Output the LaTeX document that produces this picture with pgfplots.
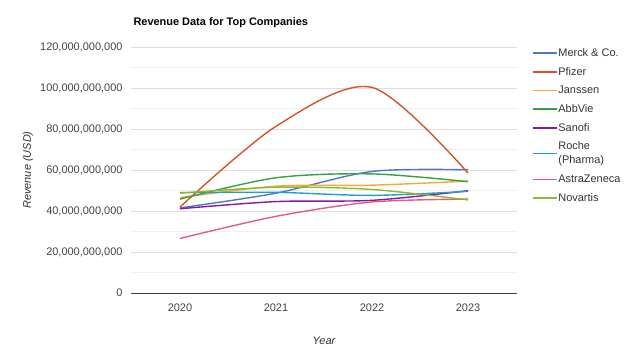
\documentclass[border=0pt]{standalone}
\usepackage{fontspec}
\setmainfont{Liberation Sans}
\usepackage{pgfplots}
\pgfplotsset{compat=1.18}
\definecolor{cMerck}{RGB}{77,120,200}
\definecolor{cPfizer}{RGB}{216,82,40}
\definecolor{cJanssen}{RGB}{245,168,55}
\definecolor{cAbbVie}{RGB}{55,160,65}
\definecolor{cSanofi}{RGB}{140,20,160}
\definecolor{cRoche}{RGB}{30,160,200}
\definecolor{cAstra}{RGB}{228,90,135}
\definecolor{cNovartis}{RGB}{140,185,45}
\definecolor{labelgray}{RGB}{68,68,68}
\definecolor{gridmaj}{RGB}{222,222,222}
\definecolor{gridmin}{RGB}{240,240,240}
\begin{document}
\begin{tikzpicture}[x=1bp,y=1bp]
\path[use as bounding box] (0,0) rectangle (637,352);
\node[anchor=west,font=\fontsize{11}{13}\selectfont\bfseries] at (130,329) {Revenue Data for Top Companies};
\begin{axis}[
  at={(131bp,59bp)}, anchor=south west,
  scale only axis, width=386bp, height=246bp,
  xmin=2019.49, xmax=2023.51, ymin=0, ymax=1.2e11,
  scaled y ticks=false,
  xtick={2020,2021,2022,2023}, xticklabels={2020,2021,2022,2023},
  ytick={0,2e10,4e10,6e10,8e10,1e11,1.2e11},
  yticklabels={{0},{20,000,000,000},{40,000,000,000},{60,000,000,000},{80,000,000,000},{100,000,000,000},{120,000,000,000}},
  minor ytick={1e10,3e10,5e10,7e10,9e10,1.1e11},
  ymajorgrids, yminorgrids,
  major grid style={gridmaj, line width=0.8pt},
  minor grid style={gridmin, line width=0.8pt},
  axis line style={draw=none},
  major tick length=0, minor tick length=0,
  tick label style={font=\fontsize{11}{13}\selectfont, color=labelgray},
  yticklabel style={xshift=-5bp},
  xticklabel style={yshift=-7bp},
  xlabel={\itshape Year}, ylabel={\itshape Revenue (USD)},
  label style={font=\fontsize{11}{13}\selectfont, color=black!80},
  xlabel style={at={(axis description cs:0.5,0)}, anchor=center, yshift=-48bp},
  ylabel style={at={(axis description cs:0,0.5)}, anchor=center, rotate=0, yshift=103bp},
  legend style={at={(1.03,1.008)}, anchor=north west, draw=none, fill=none,
    font=\fontsize{11}{14}\selectfont, row sep=7.4bp,
    nodes={align=left, inner sep=1bp, text=black!80}},
  legend cell align=left,
  legend image code/.code={\draw[#1, line width=1.6bp] (-3bp,0bp) -- (21bp,0bp);},
  every axis plot/.append style={line width=1.4pt, smooth, no markers},
]
\addplot[cMerck] coordinates {(2020,41.5e9) (2021,48.7e9) (2022,59.3e9) (2023,60.1e9)};
\addlegendentry{Merck \& Co.}
\addplot[cPfizer] coordinates {(2020,41.9e9) (2021,81.3e9) (2022,100.3e9) (2023,58.5e9)};
\addlegendentry{Pfizer}
\addplot[cJanssen] coordinates {(2020,46.5e9) (2021,52.1e9) (2022,52.6e9) (2023,54.6e9)};
\addlegendentry{Janssen}
\addplot[cAbbVie] coordinates {(2020,45.8e9) (2021,56.2e9) (2022,58.1e9) (2023,54.3e9)};
\addlegendentry{AbbVie}
\addplot[cSanofi] coordinates {(2020,41.1e9) (2021,44.6e9) (2022,45.2e9) (2023,49.9e9)};
\addlegendentry{Sanofi}
\addplot[cRoche] coordinates {(2020,49.0e9) (2021,49.1e9) (2022,47.6e9) (2023,49.6e9)};
\addlegendentry{Roche\\(Pharma)}
\addplot[cAstra] coordinates {(2020,26.6e9) (2021,37.4e9) (2022,44.4e9) (2023,45.8e9)};
\addlegendentry{AstraZeneca}
\addplot[cNovartis] coordinates {(2020,48.7e9) (2021,51.6e9) (2022,50.5e9) (2023,45.4e9)};
\addlegendentry{Novartis}
\draw[black!75, line width=0.8pt] (axis cs:2019.49,0) -- (axis cs:2023.51,0);
\end{axis}
\end{tikzpicture}
\end{document}
